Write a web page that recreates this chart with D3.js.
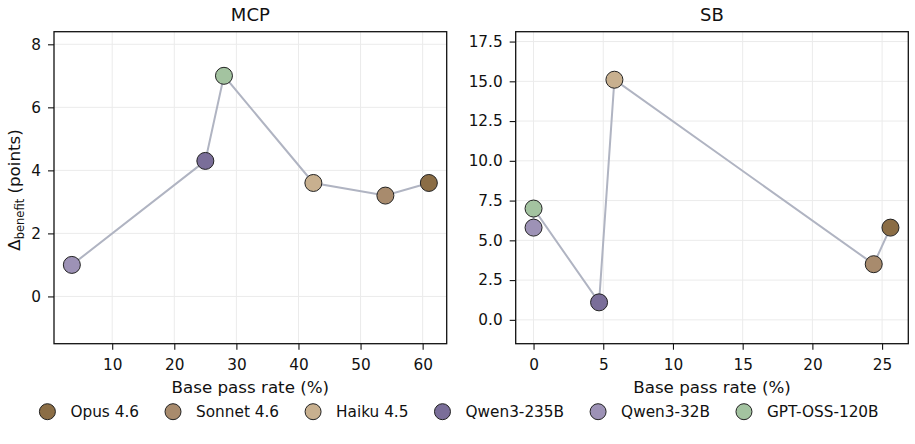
<!DOCTYPE html>
<html>
<head>
<meta charset="utf-8">
<script src="https://cdn.jsdelivr.net/npm/d3@7"></script>
<style>
  body { margin: 0; background: #fff; }
  svg { display: block; font-family: "DejaVu Sans", sans-serif; }
</style>
</head>
<body>
<svg id="chart" width="915" height="444"></svg>
<script>
// ---- data ----
const models = ["Opus 4.6", "Sonnet 4.6", "Haiku 4.5", "Qwen3-235B", "Qwen3-32B", "GPT-OSS-120B"];
const mcpBase = [61.0, 54.0, 42.4, 25.0, 3.5, 28.0];
const mcpBenefit = [3.6, 3.2, 3.6, 4.3, 1.0, 7.0];
const sbBase = [25.6, 24.4, 5.8, 4.7, 0.0, 0.0];
const sbBenefit = [5.8, 3.5, 15.1, 1.1, 5.8, 7.0];
const mcpXTicks = [10, 20, 30, 40, 50, 60];
const mcpYTicks = [0, 2, 4, 6, 8];
const sbXTicks = [0, 5, 10, 15, 20, 25];
const sbYTicks = [0, 2.5, 5, 7.5, 10, 12.5, 15, 17.5];
const panelTitles = ["MCP", "SB"];
const xLabel = "Base pass rate (%)";

// ---- styles ----
const palette = ["#8b6d45", "#a88b6d", "#c8b08f", "#7a6e99", "#9d92b6", "#a3c3a0"];
const lineColor = "#b0b4c2";

const svg = d3.select("#chart");
const plotTop = 31.7, plotBottom = 343.7;
const panels = [
  { title: panelTitles[0], xs: mcpBase, ys: mcpBenefit, xt: mcpXTicks, yt: mcpYTicks, left: 54, right: 446.7, yfmt: d3.format("d") },
  { title: panelTitles[1], xs: sbBase, ys: sbBenefit, xt: sbXTicks, yt: sbYTicks, left: 515.7, right: 908.3, yfmt: d3.format(".1f") }
];

panels.forEach((p, pi) => {
  const xmin = d3.min(p.xs), xmax = d3.max(p.xs);
  const pad = (xmax - xmin) * 0.05;
  const x = d3.scaleLinear().domain([xmin - pad, xmax + pad]).range([p.left, p.right]);
  const ymax = d3.max(p.ys) * 1.2;
  const y = d3.scaleLinear().domain([-1.5, ymax]).range([plotBottom, plotTop]);
  const g = svg.append("g");

  // grid
  g.append("g").selectAll("line").data(p.xt).join("line")
    .attr("x1", d => x(d)).attr("x2", d => x(d)).attr("y1", plotTop).attr("y2", plotBottom)
    .attr("stroke", "#ebebeb").attr("stroke-width", 1);
  g.append("g").selectAll("line").data(p.yt).join("line")
    .attr("y1", d => y(d)).attr("y2", d => y(d)).attr("x1", p.left).attr("x2", p.right)
    .attr("stroke", "#ebebeb").attr("stroke-width", 1);

  // connecting line sorted by base
  const idx = d3.range(models.length).sort((a, b) => (p.xs[a] - p.xs[b]) || (p.ys[a] - p.ys[b]));
  const line = d3.line().x(i => x(p.xs[i])).y(i => y(p.ys[i]));
  g.append("path").attr("d", line(idx)).attr("fill", "none")
    .attr("stroke", lineColor).attr("stroke-width", 2);

  // markers
  g.append("g").selectAll("circle").data(d3.range(models.length)).join("circle")
    .attr("cx", i => x(p.xs[i])).attr("cy", i => y(p.ys[i])).attr("r", 8.5)
    .attr("fill", i => palette[i]).attr("stroke", "#222").attr("stroke-width", 1);

  // axes
  const xa = g.append("g").attr("transform", `translate(0,${plotBottom})`)
    .call(d3.axisBottom(x).tickValues(p.xt).tickSize(6).tickPadding(9).tickSizeOuter(0));
  const ya = g.append("g").attr("transform", `translate(${p.left},0)`)
    .call(d3.axisLeft(y).tickValues(p.yt).tickFormat(p.yfmt).tickSize(6).tickPadding(7).tickSizeOuter(0));
  [xa, ya].forEach(a => {
    a.select(".domain").remove();
    a.selectAll("line").attr("stroke", "#111").attr("stroke-width", 1.1);
    a.selectAll("text").attr("font-size", 15.3).attr("fill", "#111").attr("font-family", "DejaVu Sans");
  });

  // frame
  g.append("rect").attr("x", p.left).attr("y", plotTop).attr("width", p.right - p.left).attr("height", plotBottom - plotTop)
    .attr("fill", "none").attr("stroke", "#111").attr("stroke-width", 1.3);

  // title
  g.append("text").attr("x", (p.left + p.right) / 2).attr("y", 20.7).attr("text-anchor", "middle")
    .attr("font-size", 18).attr("fill", "#111").text(p.title);
  // x label
  g.append("text").attr("x", (p.left + p.right) / 2).attr("y", 393).attr("text-anchor", "middle")
    .attr("font-size", 16.7).attr("fill", "#111").text(xLabel);
});

// y label
const yl = svg.append("text").attr("transform", "translate(20,190) rotate(-90)")
  .attr("text-anchor", "middle").attr("font-size", 16.7).attr("fill", "#111");
yl.append("tspan").text("Δ");
yl.append("tspan").attr("font-size", 11.5).attr("dy", 4).text("benefit");
yl.append("tspan").attr("dy", -4).text(" (points)");

// legend
const leg = svg.append("g");
let cx = 0;
models.forEach((m, i) => {
  const it = leg.append("g").attr("transform", `translate(${cx},0)`);
  it.append("circle").attr("cx", 0).attr("cy", 0).attr("r", 8)
    .attr("fill", palette[i]).attr("stroke", "#222").attr("stroke-width", 1);
  const t = it.append("text").attr("x", 23).attr("y", 5.5).attr("font-size", 15.3).attr("fill", "#111").text(m);
  cx += 23 + t.node().getComputedTextLength() + 34;
});
const legWidth = cx - 34 + 8;
leg.attr("transform", `translate(${459 - legWidth / 2 + 8},411.7)`);
</script>
</body>
</html>
